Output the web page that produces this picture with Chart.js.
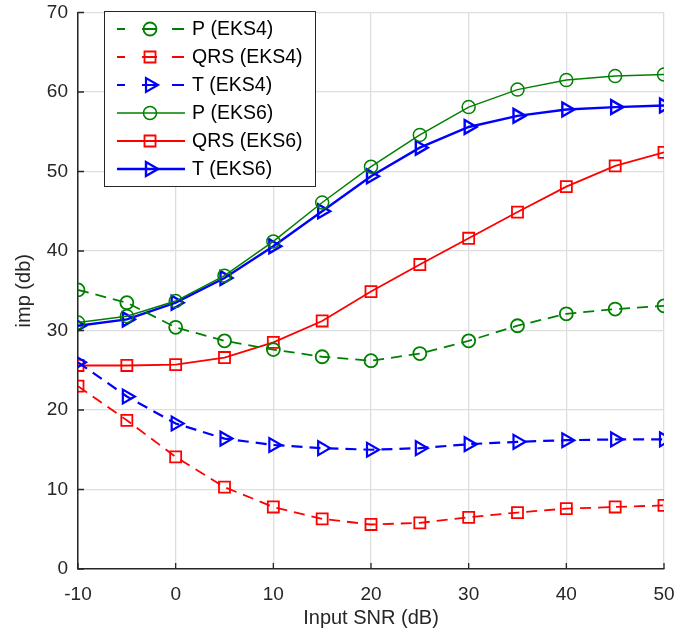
<!DOCTYPE html>
<html>
<head>
<meta charset="utf-8">
<script src="https://cdn.jsdelivr.net/npm/chart.js@4/dist/chart.umd.min.js"></script>
<style>
  html, body { margin: 0; padding: 0; background: #fff; }
  #wrap { width: 675px; height: 632px; }
</style>
</head>
<body>
<div id="wrap"><canvas id="impChart" width="675" height="632"></canvas></div>
<script>
// SNR values (dB)
const snr = [-10, -5, 0, 5, 10, 15, 20, 25, 30, 35, 40, 45, 50];
const xTicks = [-10, 0, 10, 20, 30, 40, 50];
const yTicks = [0, 10, 20, 30, 40, 50, 60, 70];

// improvement (db)
const pEks4   = [35.1, 33.5, 30.4, 28.7, 27.6, 26.7, 26.2, 27.1, 28.7, 30.6, 32.1, 32.7, 33.1];
const qrsEks4 = [23.0, 18.7, 14.1, 10.3, 7.8, 6.3, 5.6, 5.8, 6.5, 7.1, 7.6, 7.8, 8.0];
const tEks4   = [26.0, 21.7, 18.3, 16.4, 15.6, 15.2, 15.0, 15.2, 15.7, 16.0, 16.2, 16.3, 16.3];
const pEks6   = [31.0, 31.8, 33.7, 36.9, 41.2, 46.1, 50.6, 54.6, 58.1, 60.3, 61.5, 62.0, 62.2];
const qrsEks6 = [25.6, 25.6, 25.7, 26.6, 28.5, 31.2, 34.9, 38.3, 41.6, 44.9, 48.1, 50.7, 52.4];
const tEks6   = [30.6, 31.4, 33.5, 36.6, 40.6, 45.0, 49.4, 53.0, 55.6, 57.0, 57.8, 58.1, 58.3];

const GREEN = 'rgb(0,128,0)';
const RED = 'rgb(255,0,0)';
const BLUE = 'rgb(0,0,255)';
const DASH = [11, 7];
const FONT = '"Liberation Sans", Arial, sans-serif';

function series(label, data, color, style, radius, width, dashed) {
    return {
        label: label,
        data: snr.map((x, i) => ({ x: x, y: data[i] })),
        borderColor: color,
        backgroundColor: 'rgba(0,0,0,0)',
        borderWidth: width,
        borderDash: dashed ? DASH : [],
        pointStyle: style,
        pointRotation: style === 'triangle' ? 90 : 0,
        pointRadius: radius,
        pointBorderWidth: width,
        pointBorderColor: color,
        pointBackgroundColor: 'rgba(0,0,0,0)',
        tension: 0,
        fill: false
    };
}

const datasets = [
    series('P (EKS4)', pEks4, GREEN, 'circle', 6.5, 1.8, true),
    series('QRS (EKS4)', qrsEks4, RED, 'rect', 7.8, 1.8, true),
    series('T (EKS4)', tEks4, BLUE, 'triangle', 8, 2.2, true),
    series('P (EKS6)', pEks6, GREEN, 'circle', 6.5, 1.5, false),
    series('QRS (EKS6)', qrsEks6, RED, 'rect', 7.8, 1.8, false),
    series('T (EKS6)', tEks6, BLUE, 'triangle', 8, 2.4, false)
];

function drawMarker(ctx, style, x, y, r) {
    ctx.beginPath();
    if (style === 'circle') {
        ctx.arc(x, y, r, 0, Math.PI * 2);
    } else if (style === 'rect') {
        const s = r * Math.SQRT1_2;
        ctx.rect(x - s, y - s, 2 * s, 2 * s);
    } else {
        ctx.moveTo(x + r, y);
        ctx.lineTo(x - r / 2, y - r * Math.sqrt(3) / 2);
        ctx.lineTo(x - r / 2, y + r * Math.sqrt(3) / 2);
        ctx.closePath();
    }
    ctx.stroke();
}

// inward tick marks, like the original
const inwardTicks = {
    id: 'inwardTicks',
    afterDatasetsDraw(chart) {
        const { ctx, chartArea, scales } = chart;
        ctx.save();
        ctx.strokeStyle = '#262626';
        ctx.lineWidth = 1.3;
        ctx.beginPath();
        xTicks.forEach(v => {
            const px = scales.x.getPixelForValue(v);
            ctx.moveTo(px, chartArea.bottom);
            ctx.lineTo(px, chartArea.bottom - 6);
        });
        yTicks.forEach(v => {
            const py = scales.y.getPixelForValue(v);
            ctx.moveTo(chartArea.left, py);
            ctx.lineTo(chartArea.left + 6, py);
        });
        ctx.stroke();
        ctx.restore();
    }
};

const boxLegend = {
    id: 'boxLegend',
    afterDraw(chart) {
        const ctx = chart.ctx;
        const left = 104, top = 11, w = 211, h = 175;
        ctx.save();
        ctx.fillStyle = '#fff';
        ctx.fillRect(left, top, w, h);
        ctx.strokeStyle = '#262626';
        ctx.lineWidth = 1;
        ctx.setLineDash([]);
        ctx.strokeRect(left + 0.5, top + 0.5, w, h);
        chart.data.datasets.forEach((ds, i) => {
            const y = top + 18 + i * 28;
            ctx.strokeStyle = ds.borderColor;
            ctx.lineWidth = ds.borderWidth;
            ctx.beginPath();
            if (ds.borderDash.length) {
                ctx.moveTo(117, y); ctx.lineTo(125, y);
                ctx.moveTo(142, y); ctx.lineTo(157, y);
                ctx.moveTo(172, y); ctx.lineTo(184, y);
            } else {
                ctx.moveTo(117, y); ctx.lineTo(185, y);
            }
            ctx.stroke();
            drawMarker(ctx, ds.pointStyle, 150, y, ds.pointRadius);
            ctx.fillStyle = '#000';
            ctx.font = '19.5px ' + FONT;
            ctx.textBaseline = 'middle';
            ctx.textAlign = 'left';
            ctx.fillText(ds.label, 192, y + 1);
        });
        ctx.restore();
    }
};

const ctx = document.getElementById('impChart').getContext('2d');
new Chart(ctx, {
    type: 'line',
    data: { datasets: datasets },
    options: {
        responsive: false,
        animation: false,
        layout: { padding: 0 },
        plugins: {
            legend: { display: false },
            tooltip: { enabled: false }
        },
        scales: {
            x: {
                type: 'linear',
                min: -10,
                max: 50,
                afterBuildTicks: scale => { scale.ticks = xTicks.map(v => ({ value: v })); },
                afterFit: scale => {
                    scale.height = 63;
                    scale.paddingLeft = 0;
                    scale.paddingRight = 11;
                },
                grid: { color: '#dedede', lineWidth: 1.3, drawTicks: false },
                border: { color: '#262626', width: 1.5 },
                ticks: {
                    color: '#262626',
                    padding: 14,
                    font: { family: FONT, size: 19 }
                },
                title: {
                    display: true,
                    text: 'Input SNR (dB)',
                    color: '#262626',
                    padding: { top: 2, bottom: 2 },
                    font: { family: FONT, size: 20 }
                }
            },
            y: {
                type: 'linear',
                min: 0,
                max: 70,
                afterBuildTicks: scale => { scale.ticks = yTicks.map(v => ({ value: v })); },
                afterFit: scale => {
                    scale.width = 78;
                    scale.paddingTop = 12.5;
                    scale.paddingBottom = 0;
                },
                grid: { color: '#dedede', lineWidth: 1.3, drawTicks: false },
                border: { color: '#262626', width: 1.5 },
                ticks: {
                    color: '#262626',
                    padding: 10,
                    font: { family: FONT, size: 19 }
                },
                title: {
                    display: true,
                    text: 'imp (db)',
                    color: '#262626',
                    padding: { top: 12, bottom: 12 },
                    font: { family: FONT, size: 20 }
                }
            }
        }
    },
    plugins: [inwardTicks, boxLegend]
});
</script>
</body>
</html>
